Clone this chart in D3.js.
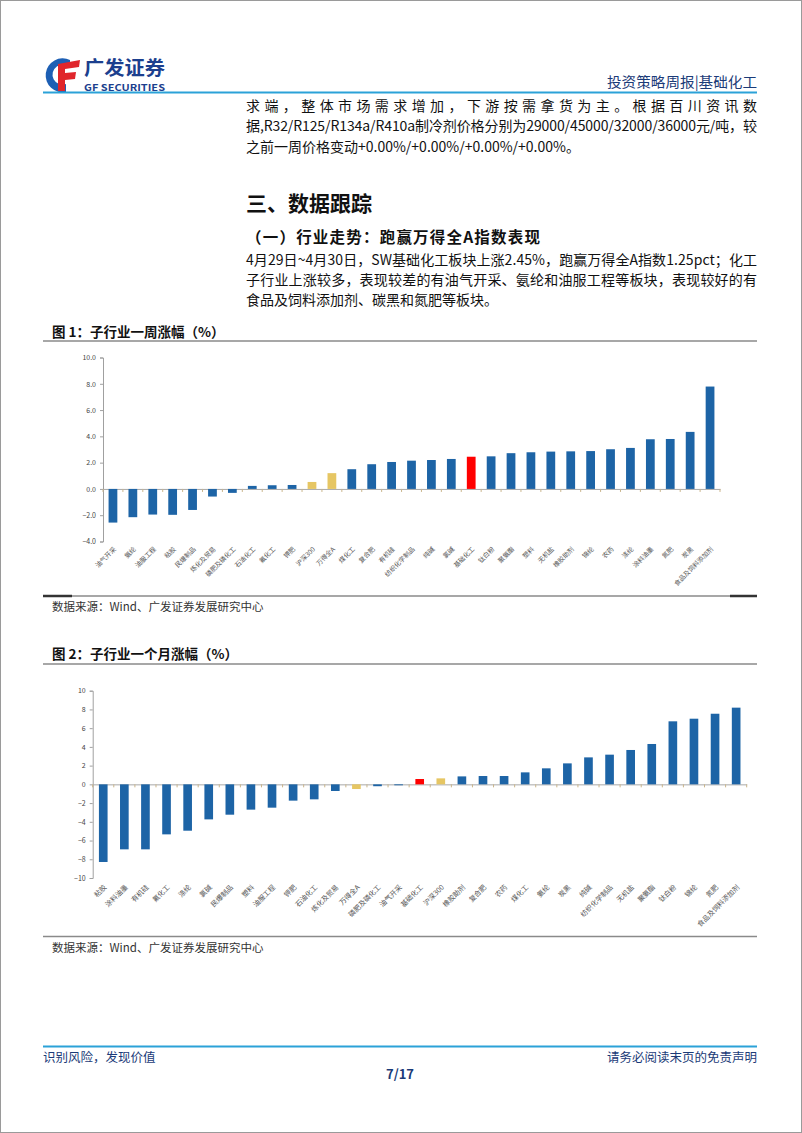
<!DOCTYPE html>
<html><head><meta charset="utf-8">
<script src="https://cdn.jsdelivr.net/npm/d3@7"></script>
<style>
body{margin:0;background:#fff}
svg{display:block}
text{font-family:"Noto Sans CJK SC","Liberation Sans",sans-serif}
</style>
</head><body>
<svg id="page" width="802" height="1133"></svg>
<script>
// ---------- data ----------
const weekCats = ["油气开采","氨纶","油服工程","粘胶","民爆制品","炼化及贸易","磷肥及磷化工","石油化工","氟化工","钾肥","沪深300","万得全A","煤化工","复合肥","有机硅","纺织化学制品","纯碱","氯碱","基础化工","钛白粉","聚氨酯","塑料","无机盐","橡胶助剂","锦纶","农药","涤纶","涂料油墨","氮肥","炭黑","食品及饲料添加剂"];
const weekVals = [-2.56,-2.15,-1.95,-1.97,-1.60,-0.58,-0.30,0.23,0.28,0.30,0.53,1.20,1.50,1.88,2.05,2.15,2.20,2.28,2.45,2.48,2.72,2.79,2.84,2.86,2.88,3.02,3.12,3.78,3.80,4.34,7.79];
const weekTicks = [-4,-2,0,2,4,6,8,10];

const monthCats = ["粘胶","涂料油墨","有机硅","氟化工","涤纶","氯碱","民爆制品","塑料","油服工程","钾肥","石油化工","炼化及贸易","万得全A","磷肥及磷化工","油气开采","基础化工","沪深300","橡胶助剂","复合肥","农药","煤化工","氨纶","炭黑","纯碱","纺织化学制品","无机盐","聚氨酯","钛白粉","锦纶","氮肥","食品及饲料添加剂"];
const monthVals = [-8.29,-6.94,-6.94,-5.34,-4.95,-3.74,-3.24,-2.70,-2.49,-1.74,-1.60,-0.71,-0.50,-0.20,-0.10,0.57,0.64,0.85,0.89,0.89,1.28,1.71,2.24,2.88,3.17,3.67,4.31,6.73,7.01,7.54,8.19];
const monthTicks = [-10,-8,-6,-4,-2,0,2,4,6,8,10];

const redCats = ["基础化工"];
const yellowCats = ["沪深300","万得全A"];

// ---------- page ----------
const svg = d3.select("#page");
const NAVY = "#1b3b78", LINE_BLUE = "#2ba2d8", BAR = "#1d64a6", YEL = "#e6c663", RED = "#ff0000";

svg.append("rect").attr("x",0.5).attr("y",0.5).attr("width",801).attr("height",1132)
  .attr("fill","#fff").attr("stroke","#9a9a9a");

// logo
const logo = svg.append("g");
logo.append("path").attr("d","M70,60 A17,17 0 1 0 66,92 L66,84 A10,10 0 1 1 70,68 Z").attr("fill","#1d5fb4");
logo.append("path").attr("d","M58,64 L80,60 L79,67 L65,69 L65,73 L76,72 L75,79 L65,80 L65,91 L58,91 Z").attr("fill","#e0262b");
logo.append("text").attr("x",84).attr("y",75).attr("font-size",19).attr("font-weight","bold")
  .attr("fill","#1c3f8e").attr("textLength",81).attr("lengthAdjust","spacingAndGlyphs").text("广发证券");
logo.append("text").attr("x",84).attr("y",91).attr("font-size",9).attr("font-weight","bold")
  .attr("fill","#1c3f8e").attr("font-family","Liberation Sans").attr("textLength",81).attr("lengthAdjust","spacingAndGlyphs").text("GF SECURITIES");

svg.append("text").attr("x",757).attr("y",87).attr("text-anchor","end").attr("font-size",14)
  .attr("fill",NAVY).attr("textLength",150).attr("lengthAdjust","spacingAndGlyphs").text("投资策略周报|基础化工");
svg.append("line").attr("x1",43).attr("x2",757).attr("y1",92.5).attr("y2",92.5).attr("stroke",LINE_BLUE).attr("stroke-width",2);

function para(lines, x, y0, dy, size, justifyW){
  lines.forEach((l,i)=>{
    const t = svg.append("text").attr("x",x).attr("y",y0+i*dy).attr("font-size",size).attr("fill","#111").text(l.t);
    if(l.j) t.attr("textLength",justifyW).attr("lengthAdjust","spacing");
  });
}
para([
  {t:"求端，整体市场需求增加，下游按需拿货为主。根据百川资讯数",j:true},
  {t:"据,R32/R125/R134a/R410a制冷剂价格分别为29000/45000/32000/36000元/吨，较",j:true},
  {t:"之前一周价格变动+0.00%/+0.00%/+0.00%/+0.00%。",j:false}
],246,111,20.3,14,511);

svg.append("text").attr("x",246).attr("y",211).attr("font-size",21).attr("font-weight","bold").attr("fill","#111").text("三、数据跟踪");
svg.append("text").attr("x",246).attr("y",243).attr("font-size",15.5).attr("font-weight","bold").attr("fill","#111")
  .attr("textLength",294).attr("lengthAdjust","spacing").text("（一）行业走势：跑赢万得全A指数表现");
para([
  {t:"4月29日~4月30日，SW基础化工板块上涨2.45%，跑赢万得全A指数1.25pct；化工",j:true},
  {t:"子行业上涨较多，表现较差的有油气开采、氨纶和油服工程等板块，表现较好的有",j:true},
  {t:"食品及饲料添加剂、碳黑和氮肥等板块。",j:false}
],246,264.5,20,14,511);

// ---------- chart helper ----------
function drawChart(cfg){
  const g = svg.append("g");
  g.append("text").attr("x",52).attr("y",cfg.titleY).attr("font-size",13.5).attr("font-weight","bold").attr("fill","#111").text(cfg.title);
  g.append("line").attr("x1",43).attr("x2",757).attr("y1",cfg.topLine).attr("y2",cfg.topLine).attr("stroke","#8a8a8a").attr("stroke-width",1.5);
  g.append("line").attr("x1",43).attr("x2",757).attr("y1",cfg.botLine).attr("y2",cfg.botLine).attr("stroke","#8a8a8a").attr("stroke-width",1.5);
  g.append("text").attr("x",52).attr("y",cfg.botLine+15).attr("font-size",11.5).attr("fill","#333").text("数据来源：Wind、广发证券发展研究中心");

  const x = d3.scaleBand().domain(cfg.cats).range([cfg.x0,cfg.x1]).paddingInner(cfg.pad).paddingOuter(cfg.pad/2);
  const y = d3.scaleLinear().domain(cfg.yDom).range([cfg.yBot,cfg.yTop]);

  const ya = d3.axisLeft(y).tickValues(cfg.ticks).tickFormat(cfg.fmt).tickSize(3).tickPadding(4);
  const yg = g.append("g").attr("transform",`translate(${cfg.x0},0)`).call(ya);
  yg.select(".domain").attr("stroke","#a0a0a0");
  yg.selectAll(".tick line").attr("stroke","#a0a0a0");
  yg.selectAll(".tick text").attr("font-size",7).attr("fill","#444").attr("font-family","Liberation Sans");

  const xa = d3.axisBottom(x).tickSize(0).tickFormat("");
  const xg = g.append("g").attr("transform",`translate(0,${y(0)})`).call(xa);
  xg.select(".domain").attr("stroke","#a8a8a8");
  const step = x.step();
  const bounds = cfg.cats.map(c=>x(c)-step*cfg.pad/2).concat([cfg.x1]);
  g.selectAll("line.xt").data(bounds).join("line").attr("class","xt")
    .attr("x1",d=>d).attr("x2",d=>d).attr("y1",y(0)).attr("y2",y(0)+3).attr("stroke","#c9b48a");

  const data = cfg.cats.map((c,i)=>({c,v:cfg.vals[i]}));
  g.selectAll("rect.bar").data(data).join("rect").attr("class","bar")
    .attr("x",d=>x(d.c)).attr("width",x.bandwidth())
    .attr("y",d=>y(Math.max(0,d.v))).attr("height",d=>Math.abs(y(d.v)-y(0)))
    .attr("fill",d=>redCats.includes(d.c)?RED:(yellowCats.includes(d.c)?YEL:BAR));

  g.selectAll("text.xl").data(data).join("text").attr("class","xl")
    .attr("transform",d=>`translate(${x(d.c)+x.bandwidth()/2+2},${cfg.labelY}) rotate(-45)`)
    .attr("text-anchor","end").attr("dy","0.35em").attr("font-size",cfg.labelSize).attr("fill","#555").text(d=>d.c);
  return g;
}

const c1 = drawChart({title:"图 1：子行业一周涨幅（%）",titleY:336.5,topLine:341,botLine:596,
  cats:weekCats,vals:weekVals,ticks:weekTicks,fmt:d3.format(".1f"),
  x0:103,x1:720,pad:0.56,yDom:[-4,10],yBot:541.5,yTop:357.5,labelY:548,labelSize:6.5});
c1.append("line").attr("x1",43).attr("x2",72).attr("y1",596).attr("y2",596).attr("stroke","#333").attr("stroke-width",2.5);
c1.append("line").attr("x1",730).attr("x2",757).attr("y1",596).attr("y2",596).attr("stroke","#333").attr("stroke-width",2.5);

drawChart({title:"图 2：子行业一个月涨幅（%）",titleY:659,topLine:664,botLine:936.5,
  cats:monthCats,vals:monthVals,ticks:monthTicks,fmt:d3.format("d"),
  x0:92.7,x1:746.7,pad:0.59,yDom:[-10,10],yBot:878,yTop:690.7,labelY:886,labelSize:7});

// footer
svg.append("line").attr("x1",43).attr("x2",757).attr("y1",1046.5).attr("y2",1046.5).attr("stroke",LINE_BLUE).attr("stroke-width",2);
svg.append("text").attr("x",43).attr("y",1061.5).attr("font-size",12.5).attr("fill",NAVY).text("识别风险，发现价值");
svg.append("text").attr("x",757).attr("y",1061.5).attr("text-anchor","end").attr("font-size",12.5).attr("fill",NAVY).text("请务必阅读末页的免责声明");
svg.append("text").attr("x",400).attr("y",1078.5).attr("text-anchor","middle").attr("font-size",13).attr("font-weight","bold").attr("fill",NAVY).text("7/17");
</script>
</body></html>
